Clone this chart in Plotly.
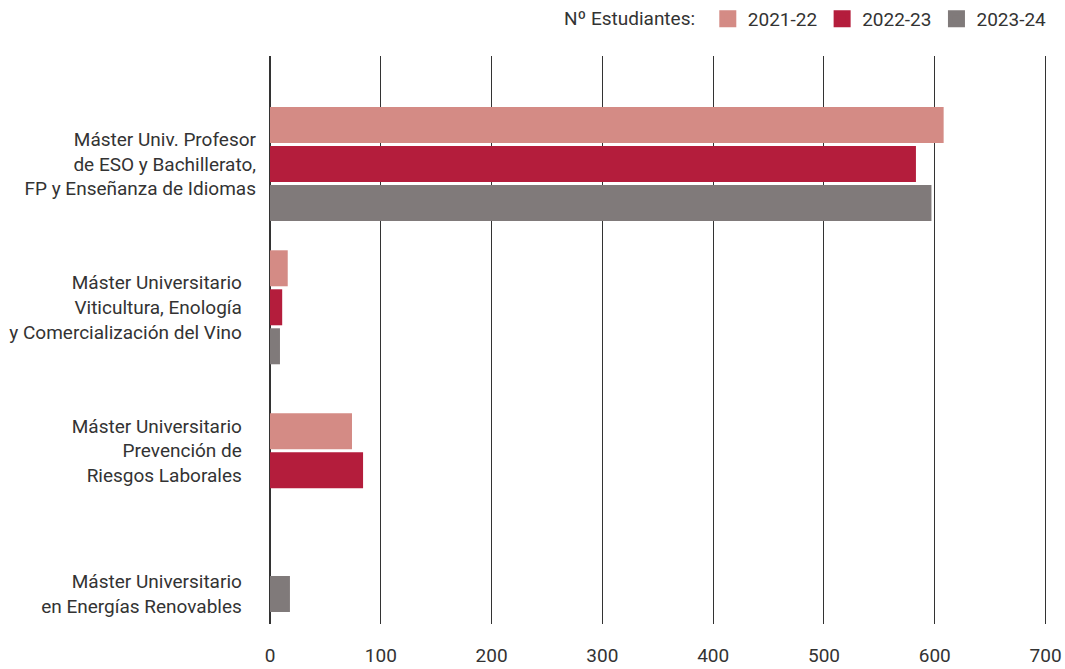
import plotly.graph_objects as go

categories = [
    "Máster Univ. Profesor<br>de ESO y Bachillerato,<br>FP y Enseñanza de Idiomas",
    "Máster Universitario<br>Viticultura, Enología<br>y Comercialización del Vino",
    "Máster Universitario<br>Prevención de<br>Riesgos Laborales",
    "Máster Universitario<br>en Energías Renovables",
]
series_names = ["2021-22", "2022-23", "2023-24"]
values_2021_22 = [608, 16, 74, None]
values_2022_23 = [583, 11, 84, None]
values_2023_24 = [597, 9, None, 18]
colors = ["#D48B85", "#B41D3C", "#807A7A"]
x_ticks = [0, 100, 200, 300, 400, 500, 600, 700]

all_values = [values_2021_22, values_2022_23, values_2023_24]

W, H = 1065, 669
ml, mr, mt, mb = 270, 15, 56, 45
x_max = 704
px_per_unit = 143.35          # vertical pixels per category step
bar_px, step_px = 36, 39
bar_w = bar_px / px_per_unit
step = step_px / px_per_unit
plot_h = H - mt - mb
plot_w = W - ml - mr
top_off = 0.753
y_range = [-top_off + plot_h / px_per_unit, -top_off]

# right padding of the labels (first label sits closer to the axis)
pad = "&nbsp;" * 3
tick_text = []
for i, c in enumerate(categories):
    if i == 0:
        tick_text.append(c)
    else:
        tick_text.append("<br>".join(line + pad for line in c.split("<br>")))

# positions: bars of each category centred on the present series only
pos = {s: ([], []) for s in range(len(series_names))}
for i in range(len(categories)):
    present = [s for s in range(len(series_names)) if all_values[s][i] is not None]
    n = len(present)
    for k, s in enumerate(present):
        pos[s][0].append(i + (k - (n - 1) / 2) * step)
        pos[s][1].append(all_values[s][i])

fig = go.Figure()
for s, name in enumerate(series_names):
    ys, xs = pos[s]
    fig.add_trace(go.Bar(
        x=xs, y=ys, orientation="h", name=name, legendgroup=name,
        showlegend=False,
        width=bar_w, marker=dict(color=colors[s], line=dict(width=0)),
        hovertemplate="%{x}<extra>" + name + "</extra>",
    ))
# legend entries (larger square swatches)
for s, name in enumerate(series_names):
    fig.add_trace(go.Bar(
        x=[None], y=[None], orientation="h", name=name, legendgroup=name,
        showlegend=True, hoverinfo="skip",
        marker=dict(color=colors[s], line=dict(color=colors[s], width=7)),
    ))

font_family = "Roboto, sans-serif"
txt_col = "#333333"
fs = 19
fig.update_layout(
    width=W, height=H,
    margin=dict(l=ml, r=mr, t=mt, b=mb, pad=0, autoexpand=False),
    paper_bgcolor="white", plot_bgcolor="white",
    font=dict(family=font_family, size=fs, color=txt_col),
    barmode="overlay",
    showlegend=True,
    legend=dict(
        orientation="h", x=1 + 2 / plot_w, xanchor="right",
        y=1 + (mt - 19) / plot_h, yanchor="middle",
        title=dict(text="Nº Estudiantes: ", side="left", font=dict(size=fs, color=txt_col)),
        font=dict(size=fs, color=txt_col),
        itemwidth=30, traceorder="normal", bgcolor="rgba(0,0,0,0)",
    ),
    xaxis=dict(
        range=[0, x_max], tickvals=x_ticks, ticktext=[str(v) for v in x_ticks],
        showgrid=True, gridcolor="#333333", gridwidth=1.3,
        zeroline=True, zerolinecolor="#333333", zerolinewidth=1.5,
        showline=False, ticks="", ticklabelstandoff=18,
        tickfont=dict(size=fs, color=txt_col), fixedrange=True,
    ),
    yaxis=dict(
        range=y_range, tickvals=list(range(len(categories))), ticktext=tick_text,
        showgrid=False, zeroline=False, showline=False, ticks="",
        ticklabelstandoff=13, tickfont=dict(size=fs, color=txt_col), fixedrange=True,
    ),
)

fig.write_html(
    "out.html",
    config={"displayModeBar": False},
    post_script="document.body.style.margin='0px';",
)
